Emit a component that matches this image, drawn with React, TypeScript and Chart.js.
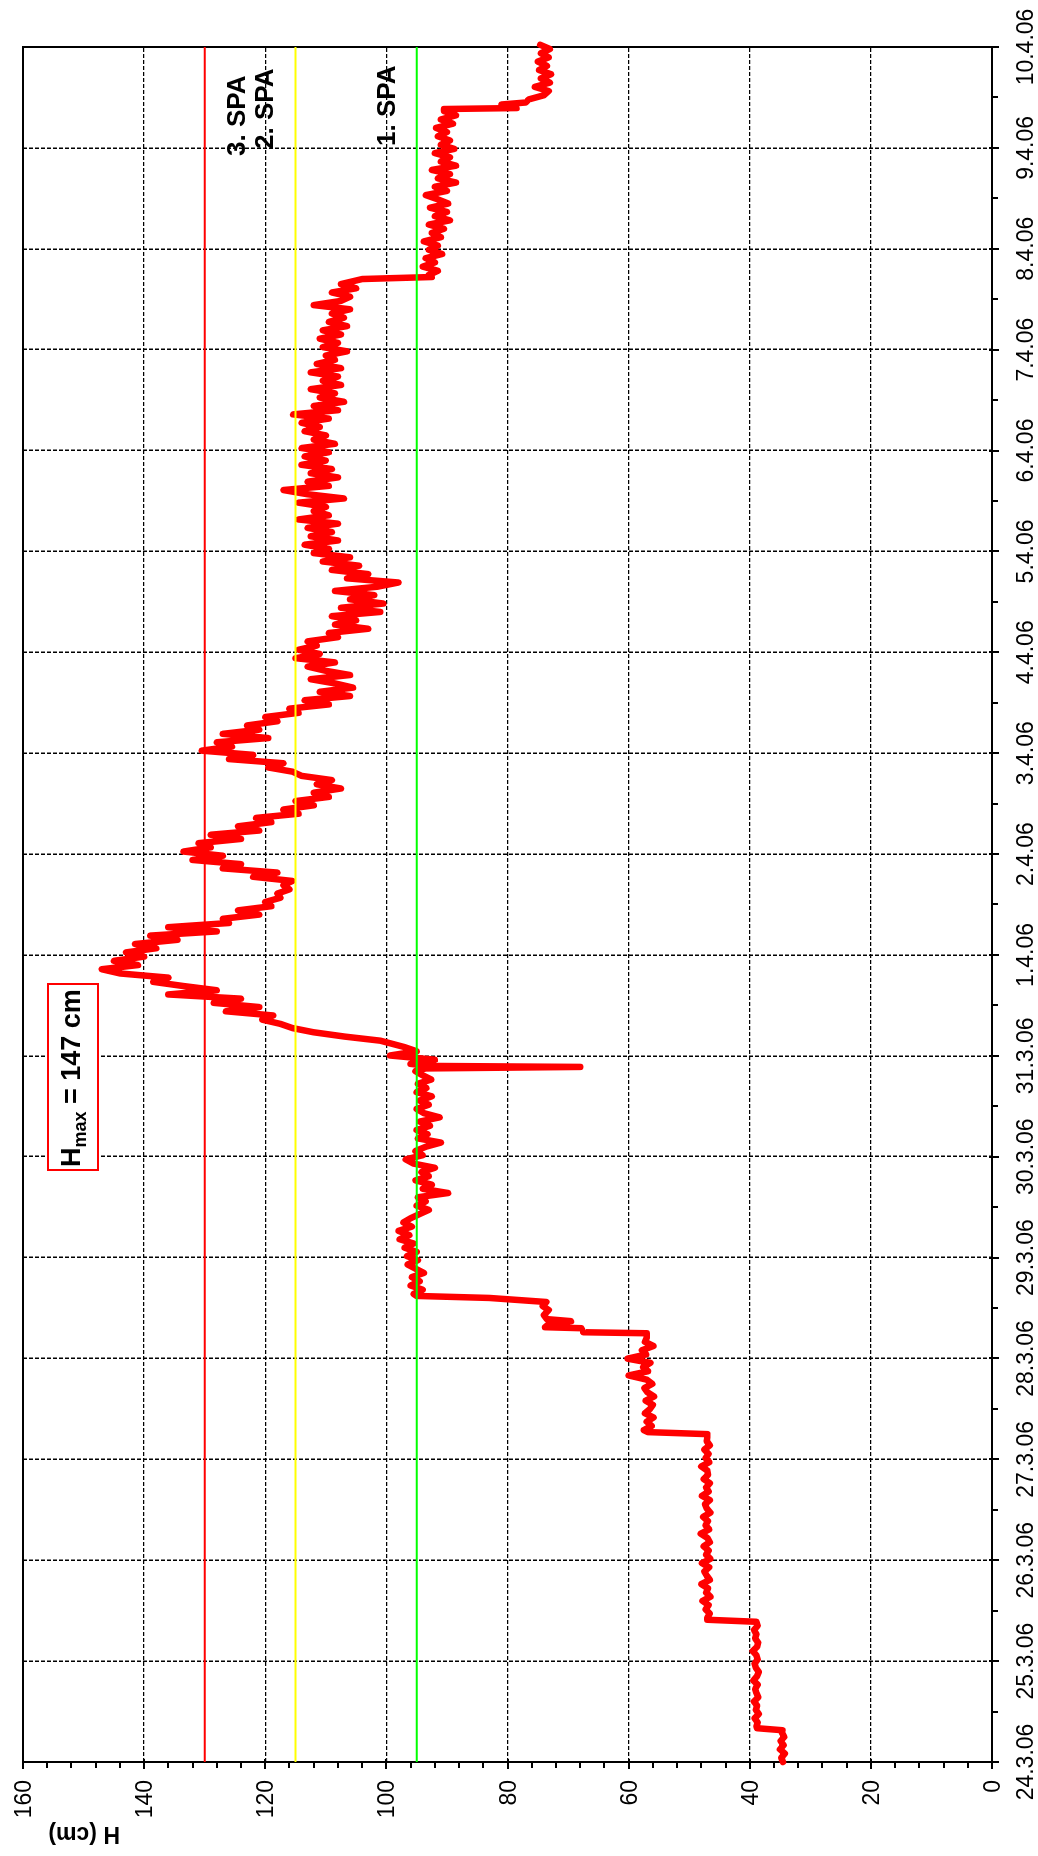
import React, { useEffect, useRef } from "react";
import { Chart, registerables } from "chart.js";

Chart.register(...registerables);

// ---------- axis labels ----------
const DAY_LABELS = [
  "24.3.06", "25.3.06", "26.3.06", "27.3.06", "28.3.06", "29.3.06",
  "30.3.06", "31.3.06", "1.4.06", "2.4.06", "3.4.06", "4.4.06",
  "5.4.06", "6.4.06", "7.4.06", "8.4.06", "9.4.06", "10.4.06",
];
const H_TICKS = [0, 20, 40, 60, 80, 100, 120, 140, 160];
const AXIS_TITLE = "H (cm)";

// ---------- warning levels ----------
const SPA_LEVELS = [95, 115, 130];
const SPA_COLORS = ["#00ff00", "#ffff00", "#ff0000"];
const SPA_LABELS = ["1. SPA", "2. SPA", "3. SPA"];

// ---------- maximum annotation ----------
const HMAX_MAIN = "H";
const HMAX_SUB = "max";
const HMAX_REST = " = 147 cm";

// ---------- water level (cm), hourly readings; start = day offset from 24.3.06 ----------
const HOUR = 1 / 24;

const startA = 0;
const levelsA = [34.5, 34.8, 34.2, 35.0, 34.4, 34.9, 34.3, 34.7];

const startB = 0.35;
const levelsB = [
  38.9, 38.7, 39.2, 38.5, 39.0, 38.8, 39.3, 38.6, 38.9, 39.1, 38.7, 39.4, 38.8,
  38.5, 39.0, 39.2, 38.7, 38.9, 39.5, 38.8, 38.6, 39.1, 38.9, 39.3, 38.7,
];

const startC = 1.43;
const levelsC = [
  47.0, 46.6, 47.3, 46.8, 47.8, 46.5, 47.2, 46.9, 48.0, 46.6,
  47.1, 47.5, 46.7, 47.9, 46.5, 47.2, 46.8, 47.6, 46.6, 47.0,
  48.1, 46.7, 47.3, 46.9, 47.7, 46.5, 47.1, 47.4, 46.6, 47.9,
  46.8, 47.2, 46.6, 47.6, 46.9, 47.0, 48.0, 46.7, 47.3, 46.8,
  47.5, 46.6, 47.1, 47.0,
];

const startD = 3.29;
const levelsD = [
  57.5, 56.2, 57.0, 55.9, 57.3, 56.5, 56.0, 57.2, 55.8, 56.9,
  57.4, 56.1, 57.0, 60.0, 56.8, 57.6, 56.4, 60.2, 57.1, 57.8,
  55.9, 57.3, 57.0,
];

const startF = 4.64;
const levelsF = [
  95.5, 94.0, 96.0, 94.5, 95.8, 93.8, 95.2, 96.5, 94.8,
  96.6, 95.0, 97.0, 95.5, 97.8, 96.2, 98.0, 95.8, 97.2, 96.0,
  94.5, 93.0, 95.0, 93.5, 94.8, 89.8, 94.0, 92.5, 95.2, 93.0, 94.2, 92.0, 95.5, 96.8,
  94.0, 95.2, 93.5, 91.0, 94.8, 93.2, 95.0, 92.8, 94.5, 91.2, 93.8, 95.0, 93.0,
  94.5, 92.5, 95.0, 93.4, 94.8, 92.6, 94.0, 95.2,
];

const startG = 6.92;
const levelsG = [96.0, 92.0, 99.4, 95.0, 97.0];

const startH1 = 7.15;
const levelsH1 = [
  101, 107, 112, 115.5, 117.5, 120.5, 118.7, 126.5, 121.0, 128.5,
  124.0, 136.0, 128.0, 133.5, 138.5, 136.0, 144.0, 147.0, 141.0, 145.0,
  140.0, 143.0, 138.0, 141.5, 134.5, 139.0, 128.0, 136.0, 126.0, 127.0,
  121.0, 124.5, 119.0, 120.0, 117.5, 118.0, 116.0, 117.0, 115.5,
];

const startH2 = 8.775;
const levelsH2 = [
  122.0, 118.0, 127.0, 124.0, 132.0, 127.0, 133.5, 129.0, 131.0, 124.0,
  129.0, 121.0, 124.5, 119.0, 121.5, 114.5, 117.0, 112.0, 115.0, 109.5,
  112.0, 107.5, 111.5, 109.0, 114.0, 115.5, 119.5, 117.0, 126.0, 122.0,
  130.5, 125.5, 128.0, 119.5, 127.0, 121.0, 123.0, 118.0, 120.0, 114.5,
  116.0, 109.5, 113.5, 106.0, 111.0, 105.5, 108.5, 112.5, 106.0, 110.0,
  113.0, 108.5, 115.0, 111.0, 114.5, 111.5, 113.0, 108.0, 109.5, 103.0,
  108.5, 105.0, 109.0, 101.0, 107.5, 100.5, 106.0, 102.0, 108.5, 101.5,
  98.0, 106.5, 103.0, 109.0, 104.5, 110.5, 106.0, 112.0, 109.5, 113.5,
  108.0, 112.5, 109.0, 113.0, 108.0, 114.5, 109.5, 112.0, 110.0, 114.5,
  107.0, 113.0, 117.0, 109.5, 113.0, 108.0, 112.5, 109.0, 114.0,
];

const startH3 = 12.9;
const levelsH3 = [
  110.0, 113.5, 109.5, 114.0, 108.5, 112.0, 110.0, 113.5, 111.0, 114.0,
  109.5, 115.4, 108.0, 112.0, 107.0, 111.0, 108.5, 112.5, 107.5, 110.5,
  108.0, 112.5, 107.5, 111.5, 108.5, 110.0, 106.5, 110.5, 108.0, 111.0,
  107.5, 110.5, 106.5, 109.5, 107.0, 109.0, 106.0, 112.0, 107.5, 106.0,
  109.0, 105.0, 107.5,
];

const startI = 14.74;
const levelsI = [
  93.0, 91.5, 94.0, 92.0, 93.5, 90.8, 93.0, 91.5, 93.8, 91.0,
  92.5, 90.5, 93.0, 89.5, 92.0, 90.0, 92.8, 89.8, 91.5, 93.5,
  90.0, 92.0, 88.5, 91.5, 89.5, 92.5, 88.5, 91.0, 89.5, 92.0,
  88.8, 91.0, 89.5, 91.5, 90.0, 91.8, 89.0, 91.0, 88.5, 90.5,
];

const startJ = 16.48;
const levelsJ = [
  76.5, 74.0, 73.2, 75.5, 73.0, 74.5, 72.8, 74.8, 73.5, 75.0,
  73.2, 74.5, 73.0, 74.6, 73.4, 75.0,
];

// fast changes between the hourly segments (day offset, level)
const jumpDays = [
  0.315, 0.335, 1.39, 1.41, 3.25, 3.27, 4.25, 4.26, 4.3, 4.31, 4.35, 4.37,
  4.39, 4.43, 4.48, 4.52, 4.56, 4.6, 4.62, 6.875, 6.89, 6.9, 14.7, 14.72,
  16.385, 16.395, 16.43, 16.45,
];
const jumpLevels = [
  34.6, 38.8, 38.9, 47.0, 47.0, 56.8, 57.0, 67.5, 67.8, 73.8, 73.0, 69.5,
  73.5, 74.0, 73.2, 74.2, 73.6, 83.0, 95.0, 93.5, 68.0, 93.0, 104.0, 92.5,
  90.5, 78.5, 81.0, 77.0,
];

function buildSeries() {
  const segs: [number, number[]][] = [
    [startA, levelsA], [startB, levelsB], [startC, levelsC], [startD, levelsD],
    [startF, levelsF], [startG, levelsG], [startH1, levelsH1], [startH2, levelsH2],
    [startH3, levelsH3], [startI, levelsI], [startJ, levelsJ],
  ];
  const pts: { x: number; y: number }[] = [];
  segs.forEach(([s, vals]) => vals.forEach((v, i) => pts.push({ x: s + i * HOUR, y: v })));
  jumpDays.forEach((d, i) => pts.push({ x: d, y: jumpLevels[i] }));
  pts.sort((a, b) => a.x - b.x);
  return pts;
}

const FONT = '"Liberation Sans", Arial, sans-serif';

const decorPlugin = {
  id: "decor",
  beforeDatasetsDraw(chart: any) {
    const { ctx, chartArea: a, scales } = chart;
    const xs = scales.x;
    const ys = scales.y;
    ctx.save();
    ctx.setLineDash([]);
    ctx.strokeStyle = "#000";
    ctx.lineWidth = 2;
    ctx.strokeRect(a.left, a.top, a.right - a.left, a.bottom - a.top);
    // day ticks
    ctx.beginPath();
    DAY_LABELS.forEach((_, i) => {
      const u = Math.round(xs.getPixelForValue(i));
      ctx.moveTo(u, a.bottom - 3);
      ctx.lineTo(u, a.bottom + 7);
      if (i < DAY_LABELS.length - 1) {
        const m = Math.round(xs.getPixelForValue(i + 0.5));
        ctx.moveTo(m, a.bottom);
        ctx.lineTo(m, a.bottom + 6);
      }
    });
    // level ticks
    H_TICKS.forEach((h, i) => {
      const v = Math.round(ys.getPixelForValue(h));
      ctx.moveTo(a.left - 7, v);
      ctx.lineTo(a.left + 3, v);
      if (i < H_TICKS.length - 1) {
        for (let k = 1; k < 5; k++) {
          const mv = Math.round(ys.getPixelForValue(h + k * 4));
          ctx.moveTo(a.left - 6, mv);
          ctx.lineTo(a.left, mv);
        }
      }
    });
    ctx.stroke();
    ctx.restore();
  },
  afterDraw(chart: any) {
    const { ctx, chartArea: a, scales } = chart;
    const xs = scales.x;
    const ys = scales.y;
    ctx.save();
    ctx.fillStyle = "#000";
    // day labels
    ctx.font = `23px ${FONT}`;
    ctx.textAlign = "center";
    ctx.textBaseline = "alphabetic";
    DAY_LABELS.forEach((lab, i) => {
      ctx.fillText(lab, xs.getPixelForValue(i), a.bottom + 41);
    });
    // level labels
    ctx.textAlign = "right";
    H_TICKS.forEach((h) => {
      ctx.fillText(String(h), a.left - 18, ys.getPixelForValue(h) + 8);
    });
    // axis title
    ctx.font = `bold 23px ${FONT}`;
    ctx.textAlign = "left";
    ctx.save();
    ctx.translate(29, 120);
    ctx.rotate(-Math.PI / 2);
    ctx.fillText(AXIS_TITLE, 0, 0);
    ctx.restore();
    // SPA labels
    ctx.font = `bold 26px ${FONT}`;
    const spaPos = [
      [1710, 395],
      [1707, 273],
      [1700, 245],
    ];
    SPA_LABELS.forEach((lab, i) => {
      ctx.fillText(lab, spaPos[i][0], spaPos[i][1]);
    });
    // Hmax box
    ctx.fillStyle = "#fff";
    ctx.fillRect(685, 47, 188, 52);
    ctx.strokeStyle = "#ff0000";
    ctx.lineWidth = 2;
    ctx.strokeRect(686, 48, 186, 50);
    ctx.fillStyle = "#000";
    let u = 689;
    ctx.font = `bold 27px ${FONT}`;
    ctx.fillText(HMAX_MAIN, u, 80);
    u += ctx.measureText(HMAX_MAIN).width;
    ctx.font = `bold 18px ${FONT}`;
    ctx.fillText(HMAX_SUB, u, 86);
    u += ctx.measureText(HMAX_SUB).width;
    ctx.font = `bold 27px ${FONT}`;
    ctx.fillText(HMAX_REST, u, 80);
    ctx.restore();
  },
};

export default function App() {
  const ref = useRef<HTMLCanvasElement | null>(null);

  useEffect(() => {
    if (!ref.current) return;
    const series = buildSeries();
    const chart = new Chart(ref.current, {
      type: "line",
      data: {
        datasets: [
          ...SPA_LEVELS.map((lv, i) => ({
            label: SPA_LABELS[i],
            data: [
              { x: 0, y: lv },
              { x: DAY_LABELS.length - 1, y: lv },
            ],
            borderColor: SPA_COLORS[i],
            borderWidth: 2,
            pointRadius: 0,
            order: 0,
          })),
          {
            label: "H",
            data: series,
            borderColor: "#ff0000",
            borderWidth: 6.5,
            pointRadius: 0,
            tension: 0,
            borderJoinStyle: "round",
            borderCapStyle: "round",
            clip: false,
            order: 1,
          } as any,
        ],
      },
      options: {
        animation: false,
        responsive: false,
        devicePixelRatio: 1,
        layout: { padding: { left: 0, right: 47, top: 23, bottom: 0 } },
        plugins: { legend: { display: false }, tooltip: { enabled: false } },
        scales: {
          x: {
            type: "linear",
            min: 0,
            max: DAY_LABELS.length - 1,
            ticks: { stepSize: 1, display: false },
            grid: { color: "#000", lineWidth: 1.5, drawTicks: false },
            border: { display: false, dash: [4, 2] },
            afterFit: (s: any) => {
              s.height = 46;
            },
          },
          y: {
            type: "linear",
            min: 0,
            max: 160,
            ticks: { stepSize: 20, display: false },
            grid: { color: "#000", lineWidth: 1.3, drawTicks: false },
            border: { display: false, dash: [4, 2] },
            afterFit: (s: any) => {
              s.width = 94;
            },
          },
        },
      } as any,
      plugins: [decorPlugin],
    });
    return () => chart.destroy();
  }, []);

  return (
    <div
      style={{
        position: "absolute",
        left: 0,
        top: 0,
        width: 1038,
        height: 1856,
        overflow: "hidden",
        background: "#fff",
      }}
    >
      <div
        style={{
          position: "absolute",
          left: 0,
          top: 0,
          width: 1856,
          height: 1038,
          transformOrigin: "0 0",
          transform: "translate(0px, 1856px) rotate(-90deg)",
        }}
      >
        <canvas
          ref={ref}
          width={1856}
          height={1038}
          style={{ width: 1856, height: 1038, display: "block" }}
        />
      </div>
    </div>
  );
}
